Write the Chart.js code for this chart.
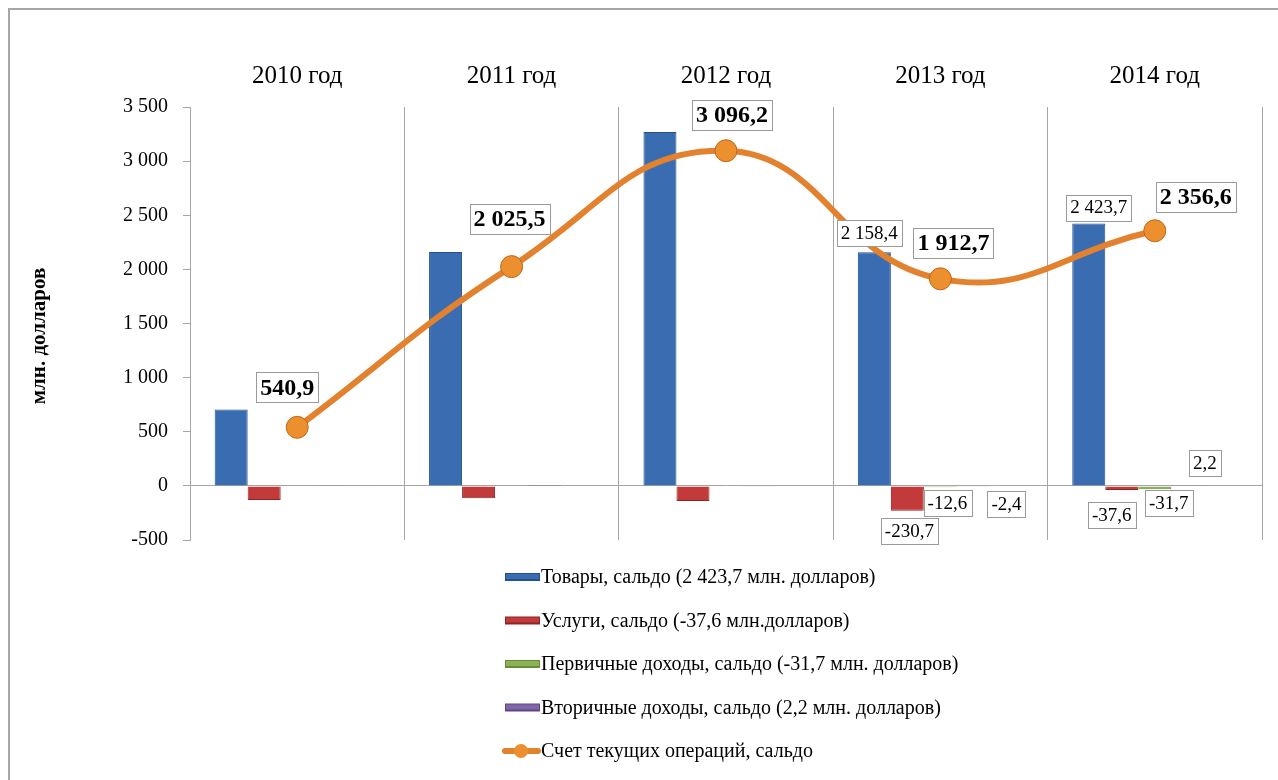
<!DOCTYPE html>
<html>
<head>
<meta charset="utf-8">
<script src="https://cdn.jsdelivr.net/npm/chart.js@4"></script>
<style>
  body { margin: 0; background: #fff; }
  #wrap { width: 1278px; height: 780px; }
</style>
</head>
<body>
<div id="wrap"><canvas id="chart" width="1278" height="780"></canvas></div>
<script>
// Данные (млн. долларов)
const years = ["2010 год", "2011 год", "2012 год", "2013 год", "2014 год"]
const tovary = [705, 2160, 3270, 2158.4, 2423.7]
const uslugi = [-130, -115, -140, -230.7, -37.6]
const pervichnye = [-5, -6, -5, -12.6, -31.7]
const vtorichnye = [5, 8, -4, -2.4, 2.2]
const prochee = [5, 0, 0, 0, 0]
const schet = [540.9, 2025.5, 3096.2, 1912.7, 2356.6]

const serif = "'Liberation Serif', 'Times New Roman', serif"

// формат "2 158,4"
function fmt(v) {
    let s = Math.abs(v).toFixed(1).split(".")
    let int = s[0].replace(/\B(?=(\d{3})+(?!\d))/g, " ")
    return (v < 0 ? "-" : "") + int + "," + s[1]
}
function fmtTick(v) {
    let int = Math.abs(v).toString().replace(/\B(?=(\d{3})+(?!\d))/g, " ")
    return (v < 0 ? "-" : "") + int
}

// подписи: [dataset, index, dx, dy]
const barLabels = [
    [0, 3, -5, -19], [0, 4, 10, -16],
    [1, 3, 2, 20], [1, 4, -10, 25],
    [2, 3, 7, 16], [2, 4, 14, 14],
    [3, 3, 33, 18], [3, 4, 17, -23]
]
const lineOffsets = [[-10, -40], [-2, -48], [6, -36], [13, -36], [41, -34]]

function box(c, text, x, y, font, h) {
    c.font = font
    const w = c.measureText(text).width
    c.fillStyle = "#fff"
    c.fillRect(x - w / 2 - 4, y - h / 2, w + 8, h)
    c.strokeStyle = "#9a9a9a"
    c.lineWidth = 1
    c.strokeRect(Math.round(x - w / 2 - 4) + 0.5, Math.round(y - h / 2) + 0.5, Math.round(w + 8), h)
    c.fillStyle = "#000"
    c.textAlign = "center"
    c.textBaseline = "middle"
    c.fillText(text, x, y + 1)
}

const extras = {
    id: "extras",
    beforeDraw(chart) {
        const c = chart.ctx
        c.save()
        c.strokeStyle = "#a6a6a6"
        c.lineWidth = 2
        c.beginPath()
        c.moveTo(9, 790)
        c.lineTo(9, 9)
        c.lineTo(1290, 9)
        c.stroke()
        // подпись оси
        c.translate(40, 336)
        c.rotate(-Math.PI / 2)
        c.font = "bold 21px " + serif
        c.fillStyle = "#000"
        c.textAlign = "center"
        c.textBaseline = "middle"
        c.fillText("млн. долларов", 0, 0)
        c.restore()
    },
    afterDatasetsDraw(chart) {
        const c = chart.ctx
        c.save()
        barLabels.forEach(([d, i, dx, dy]) => {
            const el = chart.getDatasetMeta(d).data[i]
            box(c, fmt(chart.data.datasets[d].data[i]), el.x + dx, el.y + dy, "19px " + serif, 26)
        })
        const lineMeta = chart.getDatasetMeta(5)
        lineMeta.data.forEach((el, i) => {
            box(c, fmt(schet[i]), el.x + lineOffsets[i][0], el.y + lineOffsets[i][1], "bold 24px " + serif, 30)
        })

        // легенда
        let y = 577
        chart.data.datasets.forEach((ds) => {
            if (!ds.label) return
            if (ds.type === "line") {
                c.strokeStyle = ds.borderColor
                c.lineWidth = 6
                c.lineCap = "round"
                c.beginPath()
                c.moveTo(505, y)
                c.lineTo(538, y)
                c.stroke()
                c.beginPath()
                c.arc(521, y, 7, 0, Math.PI * 2)
                c.fillStyle = ds.pointBackgroundColor
                c.fill()
            } else {
                c.fillStyle = ds.borderColor
                c.fillRect(505, y - 4, 35, 8)
                c.fillStyle = ds.backgroundColor
                c.fillRect(506, y - 3, 33, 5)
            }
            c.fillStyle = "#000"
            c.font = "20px " + serif
            c.textAlign = "left"
            c.textBaseline = "middle"
            c.fillText(ds.label, 541, y + 1)
            y += 43.5
        })
        c.restore()
    }
}

const ctx = document.getElementById("chart")

new Chart(ctx, {
    type: "bar",
    data: {
        labels: years,
        datasets: [{
            label: "Товары, сальдо (2 423,7 млн. долларов)",
            data: tovary,
            backgroundColor: "#3A6CB2",
            borderColor: "#24508C",
            borderWidth: 1,
            order: 1
        }, {
            label: "Услуги, сальдо (-37,6 млн.долларов)",
            data: uslugi,
            backgroundColor: "#C23A3A",
            borderColor: "#8E2525",
            borderWidth: 1,
            order: 1
        }, {
            label: "Первичные доходы, сальдо (-31,7 млн. долларов)",
            data: pervichnye,
            backgroundColor: "#8DB253",
            borderColor: "#6A8B3A",
            borderWidth: 1,
            order: 1
        }, {
            label: "Вторичные доходы, сальдо (2,2 млн. долларов)",
            data: vtorichnye,
            backgroundColor: "#8066A8",
            borderColor: "#5E4782",
            borderWidth: 1,
            order: 1
        }, {
            label: "",
            data: prochee,
            backgroundColor: "#4BACC6",
            borderColor: "#3A8CA3",
            borderWidth: 1,
            order: 1
        }, {
            type: "line",
            label: "Счет текущих операций, сальдо",
            data: schet,
            borderColor: "#E2822F",
            borderWidth: 6,
            tension: 0.45,
            pointRadius: 11,
            pointBackgroundColor: "#EC8F2E",
            pointBorderColor: "#C0661A",
            pointBorderWidth: 1,
            order: 0
        }]
    },
    options: {
        responsive: false,
        animation: false,
        datasets: {
            bar: { barPercentage: 1, categoryPercentage: 0.77 }
        },
        layout: { padding: { top: 10, left: 0, right: 16, bottom: 240 } },
        plugins: {
            legend: { display: false },
            tooltip: { enabled: false }
        },
        scales: {
            x: {
                position: "top",
                grid: { offset: true, drawTicks: false, color: "#a6a6a6" },
                border: { display: false },
                ticks: { color: "#000", padding: 16, font: { family: serif, size: 25 } },
                afterFit(scale) { scale.height = 97 }
            },
            y: {
                min: -500,
                max: 3500,
                ticks: {
                    stepSize: 500,
                    color: "#000",
                    padding: 15,
                    font: { family: serif, size: 20 },
                    callback: (v) => fmtTick(v)
                },
                grid: {
                    color: (c) => c.tick && c.tick.value === 0 ? "#a6a6a6" : "rgba(0,0,0,0)",
                    tickColor: "#a6a6a6",
                    tickLength: 7
                },
                border: { color: "#a6a6a6" },
                afterFit(scale) { scale.width = 190 }
            }
        }
    },
    plugins: [extras]
})
</script>
</body>
</html>
